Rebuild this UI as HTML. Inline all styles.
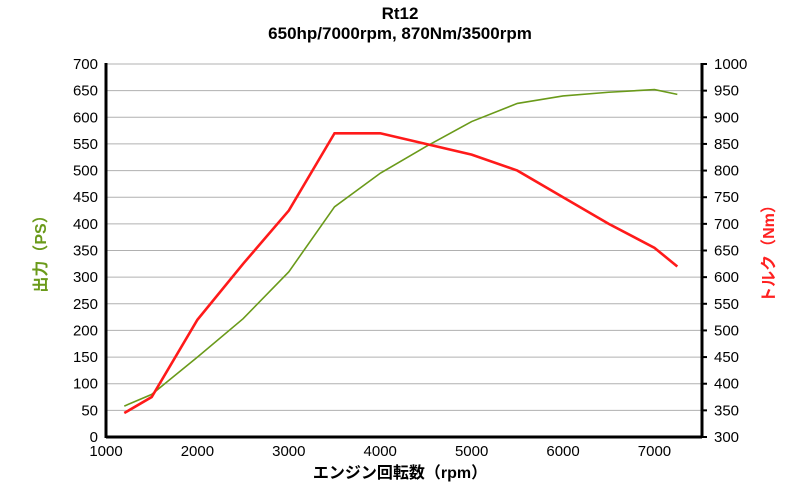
<!DOCTYPE html>
<html><head><meta charset="utf-8"><style>
body{margin:0;background:#fff;}
svg{display:block;font-family:"Liberation Sans","Noto Sans CJK JP",sans-serif;}
</style></head><body>
<svg id="c" width="800" height="491">
<text x="400" y="19" text-anchor="middle" font-size="17" font-weight="bold">Rt12</text>
<text x="400" y="39" text-anchor="middle" font-size="17" font-weight="bold">650hp/7000rpm, 870Nm/3500rpm</text>
<g id="grid"></g>
<g id="series"></g>
<g id="axes"></g>
<text x="400" y="478" text-anchor="middle" font-size="16" font-weight="bold">エンジン回転数（rpm）</text>
<text transform="translate(46,250) rotate(-90)" text-anchor="middle" font-size="16" font-weight="bold" fill="#6a9a1a">出力（PS）</text>
<text transform="translate(774,250) rotate(-90)" text-anchor="middle" font-size="16" font-weight="bold" fill="#ff2020">トルク（Nm）</text>
</svg>
<script>
const rpmPS=[1200,1500,2000,2500,3000,3500,4000,4500,5000,5500,6000,6500,7000,7250];
const psValues=[58,80,150,222,310,432,495,545,592,626,640,647,652,643];
const rpmNm=[1200,1500,2000,2500,3000,3500,4000,5000,5500,6000,6500,7000,7250];
const nmValues=[345,375,520,625,725,870,870,830,800,750,700,655,620];
const xTicks=[1000,2000,3000,4000,5000,6000,7000];
const psTicks=[0,50,100,150,200,250,300,350,400,450,500,550,600,650,700];
const nmTicks=[300,350,400,450,500,550,600,650,700,750,800,850,900,950,1000];
const L=106,R=702,T=64,B=437;
const xs=v=>L+(v-1000)*(R-L)/6520;
const yPS=v=>B-v*(B-T)/700;
const yNm=v=>B-(v-300)*(B-T)/700;
const NS="http://www.w3.org/2000/svg";
function mk(tag,attrs,parent){const e=document.createElementNS(NS,tag);for(const k in attrs)e.setAttribute(k,attrs[k]);parent.appendChild(e);return e;}
const grid=document.getElementById('grid'),axes=document.getElementById('axes'),ser=document.getElementById('series');
psTicks.forEach(v=>{
 if(v>0){const g=mk('line',{x1:L,x2:R,y1:yPS(v),y2:yPS(v),stroke:'#b0b0b0','stroke-width':1},grid);
 
 }
 const t=mk('text',{x:L-8,y:yPS(v)+5,'text-anchor':'end','font-size':15},axes);t.textContent=v;
 
 
});
nmTicks.forEach(v=>{
 mk('line',{x1:R,x2:R+5,y1:yNm(v),y2:yNm(v),stroke:'#000','stroke-width':2},axes);
 const t=mk('text',{x:R+12,y:yNm(v)+5,'font-size':15},axes);t.textContent=v;
 
 
});
xTicks.forEach(v=>{
 const t=mk('text',{x:xs(v),y:B+19,'text-anchor':'middle','font-size':15},axes);t.textContent=v;
 
 
});
mk('line',{x1:L,x2:L,y1:T-1,y2:B+1,stroke:'#000','stroke-width':3},axes);
mk('line',{x1:R,x2:R,y1:T-1,y2:B+1,stroke:'#000','stroke-width':3},axes);
mk('line',{x1:L,x2:R,y1:B,y2:B,stroke:'#000','stroke-width':3},axes);
const ps=mk('polyline',{points:rpmPS.map((r,i)=>xs(r)+','+yPS(psValues[i])).join(' '),fill:'none',stroke:'#6a9a1a','stroke-width':1.6},ser);


const nm=mk('polyline',{points:rpmNm.map((r,i)=>xs(r)+','+yNm(nmValues[i])).join(' '),fill:'none',stroke:'#ff1a1a','stroke-width':2.6},ser);


</script>
</body></html>
